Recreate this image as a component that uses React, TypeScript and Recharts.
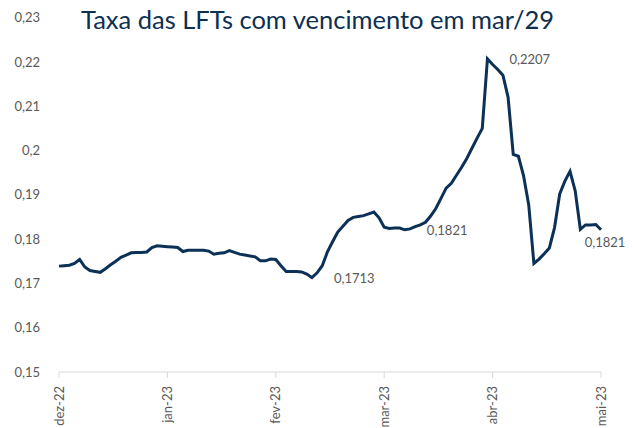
import { LabelList, Line, LineChart, XAxis, YAxis } from "recharts";

// taxa diária (%), dez/22 a mai/23
const rates = [
  0.1739, 0.174, 0.1741, 0.1745, 0.1754, 0.1737, 0.1729, 0.1727, 0.1725, 0.1733,
  0.1742, 0.175, 0.1759, 0.1764, 0.1769, 0.177, 0.177, 0.1771, 0.1781, 0.1785,
  0.1784, 0.1783, 0.1782, 0.1781, 0.1772, 0.1775, 0.1775, 0.1775, 0.1775, 0.1773,
  0.1766, 0.1768, 0.1769, 0.1774, 0.177, 0.1766, 0.1764, 0.1762, 0.176, 0.1751,
  0.1751, 0.1755, 0.1754, 0.174, 0.1727, 0.1727, 0.1727, 0.1726, 0.1721, 0.1713,
  0.1724, 0.174, 0.1771, 0.1794, 0.1816, 0.1829, 0.1842, 0.1849, 0.1851, 0.1853,
  0.1857, 0.1861, 0.1848, 0.1827, 0.1824, 0.1825, 0.1825, 0.1821, 0.1823, 0.1828,
  0.1832, 0.1838, 0.1852, 0.1869, 0.1892, 0.1915, 0.1926, 0.1944, 0.1962, 0.1982,
  0.2005, 0.2028, 0.205, 0.2207, 0.2194, 0.2183, 0.217, 0.212, 0.1991, 0.1987,
  0.1943, 0.1877, 0.1745, 0.1755, 0.1767, 0.178, 0.1826, 0.1902, 0.1931, 0.1953,
  0.1909, 0.1822, 0.1832, 0.1832, 0.1833, 0.1821,
];

const monthLabels = ["dez-22", "jan-23", "fev-23", "mar-23", "abr-23", "mai-23"];
const pointsPerMonth = 21;
const yTicks = [0.15, 0.16, 0.17, 0.18, 0.19, 0.2, 0.21, 0.22, 0.23];
const labelledPoints = [49, 67, 83, 105];

const NAVY = "#0b3157";
const GREY = "#595959";
const FONT = "Lato, 'Open Sans', sans-serif";

const data = rates.map((v, i) => ({
  i,
  v,
  label: labelledPoints.includes(i) ? v : null,
}));

const fmt = (v: number) => String(Number(v.toFixed(4))).replace(".", ",");

const MonthTick = (props: any) => {
  const { x, y, payload } = props;
  const text = monthLabels[Math.round(payload.value / pointsPerMonth)];
  return (
    <text
      x={x}
      y={y + 6}
      transform={`rotate(-90, ${x}, ${y + 6})`}
      textAnchor="end"
      dy="0.35em"
      fill={GREY}
      fontSize={13}
      fontFamily={FONT}
    >
      {text}
    </text>
  );
};

const PointLabel = (props: any) => {
  const { x, y, value, index } = props;
  if (value == null) return null;
  const last = index === rates.length - 1;
  return (
    <text
      x={last ? x + 4 : x + 22}
      y={last ? y + 12 : y}
      textAnchor={last ? "middle" : "start"}
      dominantBaseline="central"
      fill={GREY}
      fontSize={13}
      fontFamily={FONT}
    >
      {fmt(value)}
    </text>
  );
};

export default function App() {
  return (
    <div style={{ position: "absolute", left: 0, top: 0, width: 634, height: 428, background: "#fff" }}>
      <div
        style={{
          position: "absolute",
          left: 81,
          top: 4,
          fontFamily: FONT,
          fontSize: 25.5,
          color: "#0d2f50",
          whiteSpace: "nowrap",
        }}
      >
        Taxa das LFTs com vencimento em mar/29
      </div>
      <LineChart
        width={634}
        height={428}
        data={data}
        margin={{ top: 17.6, right: 33, bottom: 0, left: 0 }}
      >
        <XAxis
          dataKey="i"
          type="number"
          domain={[0, pointsPerMonth * 5]}
          ticks={monthLabels.map((_, k) => k * pointsPerMonth)}
          tick={<MonthTick />}
          stroke="#d9d9d9"
          tickSize={6}
          height={56}
          interval={0}
        />
        <YAxis
          domain={[0.15, 0.23]}
          ticks={yTicks}
          width={59}
          axisLine={false}
          tickLine={false}
          tickSize={0}
          tickMargin={19}
          tickFormatter={(v: number) => fmt(v)}
          tick={{ fill: GREY, fontSize: 13, fontFamily: FONT }}
          interval={0}
        />
        <Line
          dataKey="v"
          stroke={NAVY}
          strokeWidth={3}
          dot={false}
          type="linear"
          isAnimationActive={false}
        >
          <LabelList dataKey="label" content={<PointLabel />} />
        </Line>
      </LineChart>
    </div>
  );
}
